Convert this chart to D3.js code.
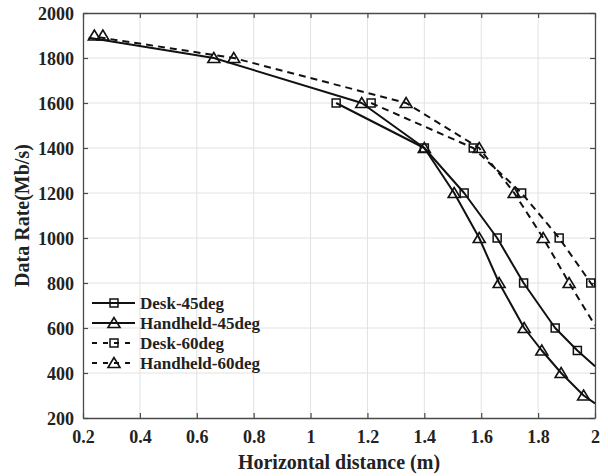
<!DOCTYPE html>
<html>
<head>
<meta charset="utf-8">
<script src="https://cdn.jsdelivr.net/npm/d3@7/dist/d3.min.js"></script>
<style>
  html, body { margin: 0; padding: 0; background: #fff; }
  svg { display: block; }
  svg text { font-family: 'Liberation Serif', 'DejaVu Serif', serif !important; font-weight: 700; fill: #222; }
</style>
</head>
<body>
<svg id="chart" width="608" height="476"></svg>
<script>
// ---- data ----
const xTicks = [0.2, 0.4, 0.6, 0.8, 1, 1.2, 1.4, 1.6, 1.8, 2];
const yTicks = [200, 400, 600, 800, 1000, 1200, 1400, 1600, 1800, 2000];
const xTickLabels = ["0.2", "0.4", "0.6", "0.8", "1", "1.2", "1.4", "1.6", "1.8", "2"];
const seriesNames = ["Desk-45deg", "Handheld-45deg", "Desk-60deg", "Handheld-60deg"];

// marker data (distance m, rate Mb/s)
const desk45MarkX = [1.09, 1.40, 1.54, 1.656, 1.749, 1.86, 1.938];
const desk45MarkY = [1600, 1400, 1200, 1000, 800, 600, 500];
const hand45MarkX = [0.24, 0.66, 1.18, 1.40, 1.505, 1.593, 1.663, 1.751, 1.813, 1.881, 1.96];
const hand45MarkY = [1900, 1800, 1600, 1400, 1200, 1000, 800, 600, 500, 400, 300];
const desk60MarkX = [1.213, 1.572, 1.742, 1.874, 1.985];
const desk60MarkY = [1600, 1400, 1200, 1000, 800];
const hand60MarkX = [0.27, 0.73, 1.336, 1.593, 1.716, 1.818, 1.909];
const hand60MarkY = [1900, 1800, 1600, 1400, 1200, 1000, 800];

// line data
const desk45LineX = [1.09, 1.40, 1.54, 1.656, 1.749, 1.86, 1.938, 2.0];
const desk45LineY = [1600, 1400, 1200, 1000, 800, 600, 500, 430];
const hand45LineX = [0.22, 0.66, 1.18, 1.40, 1.505, 1.593, 1.663, 1.751, 1.813, 1.881, 1.96, 2.0];
const hand45LineY = [1890, 1800, 1600, 1400, 1200, 1000, 800, 600, 500, 400, 300, 265];
const desk60LineX = [1.213, 1.572, 1.742, 1.874, 1.985, 2.0];
const desk60LineY = [1600, 1400, 1200, 1000, 800, 775];
const hand60LineX = [0.255, 0.73, 1.336, 1.593, 1.716, 1.818, 1.909, 2.0];
const hand60LineY = [1892, 1800, 1600, 1400, 1200, 1000, 800, 612];

const series = [
  { name: seriesNames[0], dashed: false, marker: "square",   lx: desk45LineX, ly: desk45LineY, mx: desk45MarkX, my: desk45MarkY },
  { name: seriesNames[1], dashed: false, marker: "triangle", lx: hand45LineX, ly: hand45LineY, mx: hand45MarkX, my: hand45MarkY },
  { name: seriesNames[2], dashed: true,  marker: "square",   lx: desk60LineX, ly: desk60LineY, mx: desk60MarkX, my: desk60MarkY },
  { name: seriesNames[3], dashed: true,  marker: "triangle", lx: hand60LineX, ly: hand60LineY, mx: hand60MarkX, my: hand60MarkY }
];

// ---- layout ----
const L = 83, R = 595, T = 13, B = 418;
const FONT = "'Liberation Serif', 'DejaVu Serif', serif";
const svg = d3.select("#chart");
svg.append("rect").attr("width", 608).attr("height", 476).attr("fill", "#fff");

const x = d3.scaleLinear().domain([0.2, 2]).range([L, R]);
const y = d3.scaleLinear().domain([200, 2000]).range([B, T]);

// grid
const grid = svg.append("g");
grid.selectAll(".gx").data(xTicks.slice(1, -1)).join("line")
  .attr("x1", d => x(d)).attr("x2", d => x(d)).attr("y1", T).attr("y2", B)
  .attr("stroke", "#e2e2e2").attr("stroke-width", 1);
grid.selectAll(".gy").data(yTicks.slice(1, -1)).join("line")
  .attr("x1", L).attr("x2", R).attr("y1", d => y(d)).attr("y2", d => y(d))
  .attr("stroke", "#e2e2e2").attr("stroke-width", 1);

// axes
const axisColor = "#4a4a4a";
const xAxis = d3.axisBottom(x).tickValues(xTicks).tickFormat((d, i) => xTickLabels[i]).tickSizeInner(-5).tickSizeOuter(0).tickPadding(12);
const yAxis = d3.axisLeft(y).tickValues(yTicks).tickFormat(d3.format("d")).tickSizeInner(-5).tickSizeOuter(0).tickPadding(9);
const xTop = d3.axisTop(x).tickValues(xTicks).tickFormat("").tickSizeInner(-5).tickSizeOuter(0);
const yRight = d3.axisRight(y).tickValues(yTicks).tickFormat("").tickSizeInner(-5).tickSizeOuter(0);

function styleAxis(g) {
  g.attr("font-family", FONT).attr("font-size", 18).attr("font-weight", "bold");
  g.select(".domain").attr("stroke", axisColor).attr("stroke-width", 1.3);
  g.selectAll(".tick line").attr("stroke", axisColor).attr("stroke-width", 1.2);
  g.selectAll(".tick text").attr("fill", "#222");
}
svg.append("g").attr("transform", `translate(0,${B})`).call(xAxis).call(styleAxis);
svg.append("g").attr("transform", `translate(${L},0)`).call(yAxis).call(styleAxis)
  .selectAll(".tick text").attr("dy", "0.34em");
svg.append("g").attr("transform", `translate(0,${T})`).call(xTop).call(styleAxis);
svg.append("g").attr("transform", `translate(${R},0)`).call(yRight).call(styleAxis);

// axis titles
svg.append("text").attr("x", (L + R) / 2).attr("y", 469).attr("text-anchor", "middle")
  .attr("font-family", FONT).attr("font-weight", "bold")
  .attr("font-size", 20).text("Horizontal distance (m)");
svg.append("text").attr("transform", `translate(29,${(T + B) / 2}) rotate(-90)`)
  .attr("font-family", FONT).attr("font-weight", "bold")
  .attr("text-anchor", "middle").attr("font-size", 20).text("Data Rate(Mb/s)");

// lines
const lineGen = d3.line().x(d => x(d[0])).y(d => y(d[1]));
const plot = svg.append("g");

function drawMarker(g, type, cx, cy) {
  if (type === "square") {
    g.append("rect").attr("x", cx - 4).attr("y", cy - 4).attr("width", 8).attr("height", 8)
      .attr("fill", "none").attr("stroke", "#111").attr("stroke-width", 1.5);
  } else {
    const h = 10, w = 12;
    const pts = [[cx, cy - h * 0.55], [cx - w / 2, cy + h * 0.45], [cx + w / 2, cy + h * 0.45]];
    g.append("path").attr("d", "M" + pts.map(p => p.join(",")).join("L") + "Z")
      .attr("fill", "none").attr("stroke", "#111").attr("stroke-width", 1.6).attr("stroke-linejoin", "miter");
  }
}

series.forEach(s => {
  const pts = s.lx.map((v, i) => [v, s.ly[i]]);
  plot.append("path").attr("d", lineGen(pts)).attr("fill", "none")
    .attr("stroke", "#111").attr("stroke-width", 2).attr("stroke-linejoin", "round")
    .attr("stroke-dasharray", s.dashed ? "7,5" : null);
  const mg = plot.append("g");
  s.mx.forEach((v, i) => drawMarker(mg, s.marker, x(v), y(s.my[i])));
});

// legend
const leg = svg.append("g");
const legY0 = 303, legDy = 20;
series.forEach((s, i) => {
  const cy = legY0 + i * legDy;
  leg.append("line").attr("x1", 92).attr("x2", 135).attr("y1", cy).attr("y2", cy)
    .attr("stroke", "#111").attr("stroke-width", 2)
    .attr("stroke-dasharray", s.dashed ? "5,6" : null);
  drawMarker(leg, s.marker, 114, cy);
  leg.append("text").attr("x", 140).attr("y", cy + 6)
    .attr("font-family", FONT).attr("font-weight", "bold")
    .attr("font-size", 17).text(s.name);
});
</script>
</body>
</html>
